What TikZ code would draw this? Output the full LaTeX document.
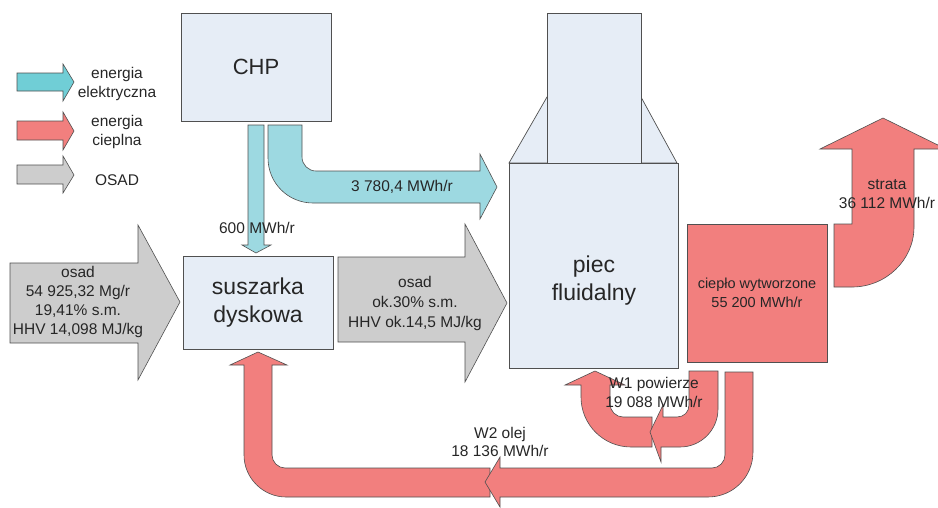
\documentclass[tikz,border=0pt]{standalone}
\usepackage{fontspec}
\setmainfont{Liberation Sans}
\definecolor{boxfill}{HTML}{E6EDF6}
\definecolor{redf}{HTML}{F27F7E}
\definecolor{cyanf}{HTML}{9DD9E1}
\definecolor{cyanleg}{HTML}{70CED6}
\definecolor{greyf}{HTML}{CDCDCD}
\definecolor{edge}{HTML}{505050}
\definecolor{txt}{HTML}{262626}
\tikzset{
  flow/.style={draw=edge, line width=0.6pt, line join=miter},
  redflow/.style={flow, fill=redf},
  cyanflow/.style={flow, fill=cyanf},
  greyflow/.style={flow, fill=greyf},
  box/.style={draw=edge, line width=0.7pt, fill=boxfill, inner sep=0pt},
  lbl/.style={text=txt, align=center, inner sep=0pt, font=\fontsize{15.5}{19}\selectfont},
  big/.style={text=txt, align=center, inner sep=0pt, font=\fontsize{23}{28}\selectfont}
}
\begin{document}
\begin{tikzpicture}[x=1pt,y=-1pt]
\useasboundingbox (0,0) rectangle (938,507);
\clip (0,0) rectangle (938,507);

% legend
\draw[flow, fill=cyanleg] (17,73) -- (63,73) -- (63,64) -- (74,82) -- (63,101) -- (63,91) -- (17,91) -- cycle;
\draw[redflow] (17,121) -- (63,121) -- (63,112) -- (74,131) -- (63,150) -- (63,140) -- (17,140) -- cycle;
\draw[greyflow] (17,165) -- (63,165) -- (63,156) -- (74,175) -- (63,193) -- (63,184) -- (17,184) -- cycle;
\node[lbl] (legc) at (117,84) {energia\\elektryczna};
\node[lbl] (legr) at (117,132) {energia\\cieplna};
\node[lbl] (legg) at (117,180) {OSAD};

% boxes
\node[box, minimum width=150pt, minimum height=108pt, font=\fontsize{22}{26}\selectfont, text=txt] (chp) at (256,67) {CHP};
\node[box, minimum width=150pt, minimum height=93pt, align=center, font=\fontsize{23}{28}\selectfont, text=txt] (sus) at (258,302.5) {suszarka\\dyskowa};

% piec fluidalny
\draw[box] (509,163) -- (547,97) -- (641,97) -- (677,163) -- cycle;
\node[box, minimum width=94pt, minimum height=150pt] (piecup) at (594,88) {};
\node[box, minimum width=169pt, minimum height=205pt] (piec) at (593.5,265.5) {};
\node[big] (piect) at (594,281) {piec\\fluidalny};

% cyan flows
\draw[cyanflow] (248,125) -- (248,245) -- (242,245) -- (256,253) -- (271,245) -- (264,245) -- (264,125) -- cycle;
\draw[cyanflow] (268,125) -- (268,158) .. controls (268,183) and (288,203) .. (313,203) -- (480,203) -- (480,219) -- (497,187) -- (480,154) -- (480,171) -- (316,171) .. controls (308.3,171) and (302,164.7) .. (302,157) -- (302,125) -- cycle;

% grey flows
\draw[greyflow] (10,263) -- (138,263) -- (138,225) -- (180,302) -- (138,380) -- (138,343) -- (10,343) -- cycle;
\draw[greyflow] (338,257) -- (465,257) -- (465,224) -- (507,303) -- (465,382) -- (465,342) -- (338,342) -- cycle;

% heat produced
\node[box, fill=redf, minimum width=140pt, minimum height=138pt, align=center, text=txt, font=\fontsize{14.5}{19}\selectfont] (heat) at (757,293) {ciepło wytworzone\\55 200 MWh/r};

% strata
\draw[redflow] (834,287) -- (834,224) -- (852,224) -- (852,149) -- (820,149) -- (883,118) -- (946,149) -- (914,149) -- (914,227) .. controls (914,260) and (886,287) .. (852,287) -- cycle;

% W2 loop
\draw[redflow] (490,468) -- (285,468) .. controls (278,468) and (272,462) .. (272,455) -- (272,365) -- (287,365) -- (258,352) -- (230,365) -- (244,365) -- (244,455) .. controls (244,478) and (263,497) .. (286,497) -- (490,497) -- cycle;
\draw[redflow] (725,372) -- (753,372) -- (753,452) .. controls (753,477) and (733,497) .. (708,497) -- (500,497) -- (500,507) -- (485,482) -- (500,457) -- (500,468) -- (712,468) .. controls (719,468) and (725,462) .. (725,455) -- cycle;

% W1 loop
\draw[redflow] (652,417) -- (623,417) .. controls (616,417) and (610,411) .. (610,404) -- (610,385) -- (625,385) -- (595,371) -- (565,385) -- (581,385) -- (581,397) .. controls (581,424.6) and (603.4,447) .. (631,447) -- (652,447) -- cycle;
\draw[redflow] (689,371) -- (718,371) -- (718,409) .. controls (718,430) and (701,447) .. (680,447) -- (661,447) -- (661,462) -- (650,432) -- (663,405) -- (663,417) -- (677,417) .. controls (684,417) and (689,412) .. (689,405) -- cycle;

% labels
\node[lbl] (l600) at (257,228) {600 MWh/r};
\node[lbl] (l3780) at (402,187) {3 780,4 MWh/r};
\node[lbl] (losad1) at (78,302) {osad\\54 925,32 Mg/r\\19,41\% s.m.\\HHV 14,098 MJ/kg};
\node[lbl, font=\fontsize{15.5}{20}\selectfont] (losad2) at (415,303) {osad\\ok.30\% s.m.\\HHV ok.14,5 MJ/kg};
\node[lbl] (lstrata) at (887,194) {strata\\36 112 MWh/r};
\node[lbl] (lw1) at (654,392) {W1 powierze\\19 088 MWh/r};
\node[lbl, font=\fontsize{15.5}{18}\selectfont] (lw2) at (500,442) {W2 olej\\18 136 MWh/r};
\end{tikzpicture}
\end{document}
